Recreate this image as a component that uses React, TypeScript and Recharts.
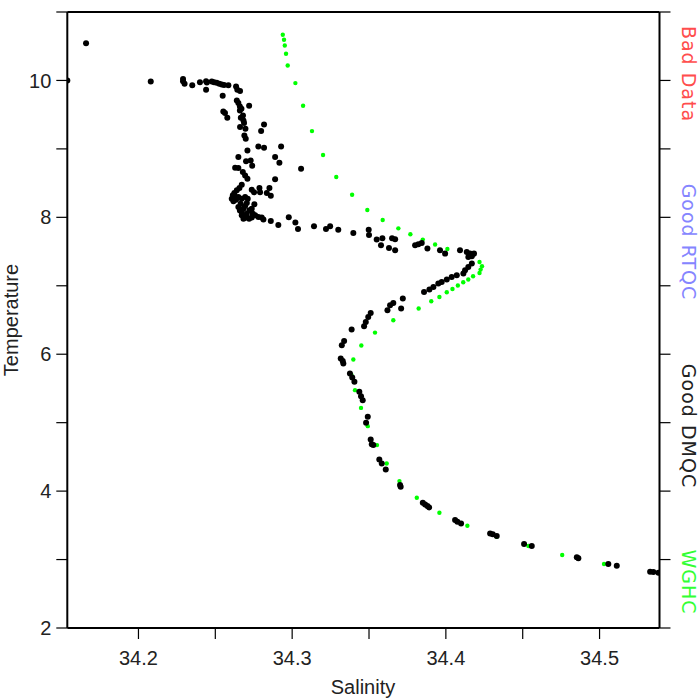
import { ScatterChart, Scatter, XAxis, YAxis } from "recharts";

// Good DMQC profile (black)
const dmqcSalinity = [
  34.1537, 34.1659, 34.208, 34.229, 34.229, 34.23, 34.235, 34.24, 34.244, 34.2445,
  34.244, 34.2477, 34.2492, 34.2509, 34.2526, 34.2542, 34.2557, 34.2585, 34.2548, 34.2635,
  34.2643, 34.2661, 34.264, 34.265, 34.266, 34.267, 34.266, 34.268, 34.2666, 34.2683,
  34.2687, 34.272, 34.2552, 34.2563, 34.2578, 34.2661, 34.2696, 34.2689, 34.2698, 34.2817,
  34.2798, 34.2709, 34.278, 34.2817, 34.2928, 34.265, 34.27, 34.273, 34.274, 34.2889,
  34.2917, 34.3058, 34.2629, 34.265, 34.2679, 34.2694, 34.2709, 34.2889,
  34.2672, 34.2657, 34.264, 34.2624, 34.2614, 34.2607, 34.2618, 34.2635, 34.265, 34.2672,
  34.2694, 34.2711, 34.2705, 34.2694, 34.2683, 34.2672, 34.2672, 34.2683, 34.2705, 34.2722,
  34.2737, 34.2754, 34.2744, 34.2737, 34.2759, 34.278, 34.2802, 34.2813, 34.2861, 34.291,
  34.2978, 34.3021, 34.3038, 34.3142, 34.322, 34.3247, 34.33, 34.3398, 34.2737, 34.2752,
  34.2787, 34.2791, 34.2852, 34.2861, 34.2835, 34.265, 34.266, 34.27, 34.269, 34.272,
  34.2665, 34.263,
  34.3498, 34.35, 34.355, 34.3587, 34.3578, 34.365, 34.367, 34.363, 34.367, 34.38,
  34.3821, 34.3843, 34.388, 34.3962, 34.3995,
  34.4092, 34.4136, 34.4157, 34.4183, 34.4146, 34.4169, 34.4169, 34.4146, 34.4125, 34.4114,
  34.4071, 34.4038, 34.4006, 34.3973, 34.3951, 34.3919, 34.3893, 34.3858, 34.372, 34.3709,
  34.3658, 34.3637, 34.362, 34.3511, 34.3495, 34.3479, 34.3468, 34.3387, 34.3338, 34.3323,
  34.3316, 34.3329, 34.3333, 34.3376, 34.3391, 34.3405, 34.3437, 34.3448, 34.3459, 34.3492,
  34.3481, 34.3511, 34.3518, 34.3528, 34.3567, 34.3583, 34.3609, 34.3702, 34.3706, 34.385,
  34.3865, 34.388, 34.3891, 34.406, 34.4075, 34.4099, 34.4288, 34.4305, 34.4331, 34.4509,
  34.4559, 34.4852, 34.4862, 34.5057, 34.5112, 34.5329, 34.535, 34.5383,
];
const dmqcTemperature = [
  10.0, 10.545, 9.985, 10.02, 9.99, 9.95, 9.93, 9.975, 9.99, 9.97,
  9.865, 9.985, 9.975, 9.965, 9.95, 9.94, 9.935, 9.93, 9.777, 9.912,
  9.865, 9.845, 9.708, 9.669, 9.62, 9.587, 9.562, 9.489, 9.455, 9.416,
  9.377, 9.63, 9.547, 9.523, 9.455, 9.318, 9.295, 9.197, 9.149, 9.358,
  9.26, 8.978, 9.036, 9.017, 9.036, 8.883, 8.818, 8.832, 8.755, 8.883,
  8.796, 8.711, 8.725, 8.72, 8.663, 8.613, 8.565, 8.555,
  8.476, 8.427, 8.394, 8.355, 8.321, 8.273, 8.234, 8.258, 8.297, 8.273,
  8.297, 8.273, 8.209, 8.166, 8.127, 8.078, 8.029, 7.981, 8.054, 8.102,
  8.127, 8.19, 8.054, 7.996, 8.029, 8.004, 7.996, 7.967, 7.946, 7.888,
  8.0, 7.923, 7.83, 7.869, 7.83, 7.869, 7.82, 7.771, 8.404, 8.365,
  8.427, 8.365, 8.427, 8.316, 8.355, 8.15, 8.1, 8.0, 7.99, 7.98,
  8.2, 8.3,
  7.82, 7.742, 7.675, 7.693, 7.591, 7.693, 7.679, 7.552, 7.518, 7.591,
  7.606, 7.625, 7.543, 7.518, 7.47,
  7.518, 7.494, 7.47, 7.47, 7.421, 7.431, 7.324, 7.275, 7.226, 7.178,
  7.153, 7.128, 7.09, 7.055, 7.032, 6.982, 6.945, 6.91, 6.813, 6.667,
  6.749, 6.715, 6.642, 6.603, 6.545, 6.472, 6.409, 6.361, 6.194, 6.131,
  5.937, 5.902, 5.864, 5.718, 5.66, 5.596, 5.45, 5.387, 5.328, 5.085,
  4.997, 4.755, 4.686, 4.672, 4.463, 4.404, 4.317, 4.088, 4.063, 3.829,
  3.806, 3.781, 3.762, 3.577, 3.552, 3.528, 3.382, 3.368, 3.343, 3.226,
  3.197, 3.032, 3.018, 2.934, 2.909, 2.822, 2.818, 2.807,
];

// WGHC climatology (green)
const wghcSalinity = [
  34.2939, 34.2947, 34.2952, 34.296, 34.2971, 34.3021, 34.3071, 34.3129, 34.3201, 34.3287,
  34.339, 34.3489, 34.3589, 34.3691, 34.3769, 34.385, 34.393, 34.401, 34.415, 34.4219,
  34.4235, 34.4226, 34.4219, 34.4177, 34.4146, 34.4113, 34.4078, 34.4043, 34.4006, 34.3958,
  34.3905, 34.3823, 34.3658, 34.3539, 34.345, 34.3398, 34.3385, 34.3409, 34.3448, 34.3492,
  34.3552, 34.3615, 34.3698, 34.3811, 34.3958, 34.414, 34.4331, 34.4537, 34.4757, 34.5029,
];
const wghcTemperature = [
  10.667, 10.594, 10.511, 10.39, 10.219, 9.961, 9.631, 9.26, 8.91, 8.589,
  8.331, 8.107, 7.961, 7.839, 7.752, 7.675, 7.602, 7.537, 7.46, 7.348,
  7.285, 7.236, 7.187, 7.139, 7.091, 7.051, 7.003, 6.953, 6.905, 6.836,
  6.774, 6.667, 6.496, 6.316, 6.127, 5.923, 5.7, 5.475, 5.216, 4.949,
  4.672, 4.404, 4.146, 3.902, 3.684, 3.495, 3.333, 3.197, 3.066, 2.934,
];

const xTicks = [34.2, 34.25, 34.3, 34.35, 34.4, 34.45, 34.5];
const yTicks = [2, 3, 4, 5, 6, 7, 8, 9, 10, 11];

const dmqc = dmqcSalinity.map((s, i) => ({ s, t: dmqcTemperature[i] }));
const wghc = wghcSalinity.map((s, i) => ({ s, t: wghcTemperature[i] }));

const tickFont = { fill: "#222", fontSize: 20, fontFamily: "Liberation Sans" };
const axisLine = { stroke: "#000", strokeWidth: 2 };
const tickLine = { stroke: "#000", strokeWidth: 1.2 };

const fmtX = (v: number) => (Math.round(v * 100) % 10 === 0 ? v.toFixed(1) : "");
const fmtY = (v: number) => (v % 2 === 0 ? String(v) : "");
const blank = () => "";

const dot = (r: number, fill: string) => (props: any) =>
  <circle cx={props.cx} cy={props.cy} r={r} fill={fill} />;

const legend = [
  { text: "Bad Data", y: 74, color: "#ff4d4d" },
  { text: "Good RTQC", y: 242, color: "#8585ff" },
  { text: "Good DMQC", y: 426, color: "#222" },
  { text: "WGHC", y: 582, color: "#33ff33" },
];

export default function App() {
  const domainX: [number, number] = [34.1537, 34.539];
  return (
    <div style={{ position: "absolute", left: 0, top: 0, width: 700, height: 700, background: "#fff" }}>
      <ScatterChart width={700} height={700} margin={{ top: 0, right: 0, bottom: 0, left: 0 }}>
        <XAxis
          xAxisId="b"
          type="number"
          dataKey="s"
          domain={domainX}
          allowDataOverflow
          ticks={xTicks}
          tickFormatter={fmtX}
          height={72}
          tickSize={11}
          tickMargin={12}
          axisLine={axisLine}
          tickLine={tickLine}
          tick={tickFont}
        />
        <XAxis
          xAxisId="t"
          orientation="top"
          type="number"
          domain={domainX}
          allowDataOverflow
          ticks={xTicks}
          tickFormatter={blank}
          height={12}
          tickSize={11}
          axisLine={axisLine}
          tickLine={tickLine}
          tick={tickFont}
        />
        <YAxis
          yAxisId="l"
          type="number"
          dataKey="t"
          domain={[2, 11]}
          allowDataOverflow
          ticks={yTicks}
          tickFormatter={fmtY}
          width={67.3}
          tickSize={11}
          tickMargin={5}
          axisLine={axisLine}
          tickLine={tickLine}
          tick={tickFont}
        />
        <YAxis
          yAxisId="r"
          orientation="right"
          type="number"
          domain={[2, 11]}
          allowDataOverflow
          ticks={yTicks}
          tickFormatter={blank}
          width={40.5}
          tickSize={11}
          axisLine={axisLine}
          tickLine={tickLine}
          tick={tickFont}
        />
        <Scatter data={wghc} xAxisId="b" yAxisId="l" shape={dot(2.2, "#00ff00")} isAnimationActive={false} />
        <Scatter data={dmqc} xAxisId="b" yAxisId="l" shape={dot(3, "#000")} isAnimationActive={false} />
      </ScatterChart>
      <svg
        width={700}
        height={700}
        style={{ position: "absolute", left: 0, top: 0, pointerEvents: "none" }}
        fontFamily="DejaVu Sans"
        fontSize={19}
      >
        <text x={363} y={694} textAnchor="middle" fill="#222" fontFamily="Liberation Sans" fontSize={20}>
          Salinity
        </text>
        <text x={18} y={320} textAnchor="middle" fill="#222" fontFamily="Liberation Sans" fontSize={20} transform="rotate(-90 18 320)">
          Temperature
        </text>
        {legend.map((l) => (
          <text
            key={l.text}
            x={682}
            y={l.y}
            textAnchor="middle"
            fill={l.color}
            letterSpacing={1}
            transform={`rotate(90 682 ${l.y})`}
          >
            {l.text}
          </text>
        ))}
      </svg>
    </div>
  );
}
